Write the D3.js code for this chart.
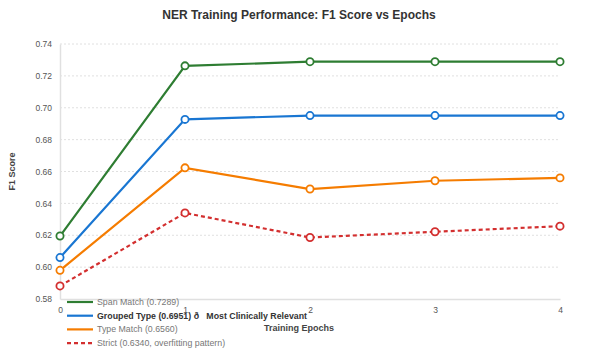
<!DOCTYPE html>
<html>
<head>
<meta charset="utf-8">
<script src="https://cdn.jsdelivr.net/npm/d3@7"></script>
<style>
  body { margin: 0; background: #fff; }
  svg { font-family: "Liberation Sans", Arial, sans-serif; }
</style>
</head>
<body>
<div id="chart"></div>
<script>
// chart data
var epochs = [0, 1, 2, 3, 4];
var spanMatch = [0.6195, 0.7263, 0.7289, 0.7289, 0.7289];
var groupedType = [0.6060, 0.6927, 0.6951, 0.6951, 0.6951];
var typeMatch = [0.5980, 0.6623, 0.6490, 0.6542, 0.6560];
var strict = [0.5882, 0.6340, 0.6186, 0.6222, 0.6257];
var yTicks = [0.58, 0.60, 0.62, 0.64, 0.66, 0.68, 0.70, 0.72, 0.74];
var seriesNames = ["Span Match (0.7289)", "Grouped Type (0.6951) \u00f0   Most Clinically Relevant", "Type Match (0.6560)", "Strict (0.6340, overfitting pattern)"];

createGraph();

function createGraph() {
    var width = 598, height = 359;
    var margin = { top: 44, right: 38, bottom: 60, left: 60 };

    var series = [
        { name: seriesNames[0], values: spanMatch, color: "#2e7d32", dash: null, bold: false },
        { name: seriesNames[1], values: groupedType, color: "#1976d2", dash: null, bold: true },
        { name: seriesNames[2], values: typeMatch, color: "#f57c00", dash: null, bold: false },
        { name: seriesNames[3], values: strict, color: "#d32f2f", dash: "4,3", bold: false }
    ];

    var x = d3.scaleLinear().domain([0, 4]).range([margin.left, width - margin.right]);
    var y = d3.scaleLinear().domain([0.58, 0.74]).range([height - margin.bottom, margin.top]);

    var svg = d3.select("#chart").append("svg")
        .attr("width", width)
        .attr("height", height);

    // grid
    svg.append("g").selectAll("line")
        .data(yTicks.slice(1))
        .enter().append("line")
        .attr("x1", x(0)).attr("x2", x(4))
        .attr("y1", function (d) { return y(d); })
        .attr("y2", function (d) { return y(d); })
        .attr("stroke", "#e0e0e0")
        .attr("stroke-dasharray", "2,2")
        .attr("stroke-width", 1);

    // axes
    var yAxis = svg.append("g")
        .attr("transform", "translate(" + margin.left + ",0)")
        .call(d3.axisLeft(y).tickValues(yTicks).tickFormat(d3.format(".2f")).tickSize(0).tickPadding(8));
    var xAxis = svg.append("g")
        .attr("transform", "translate(0," + (height - margin.bottom) + ")")
        .call(d3.axisBottom(x).tickValues(epochs).tickFormat(d3.format("d")).tickSize(0).tickPadding(8));
    [xAxis, yAxis].forEach(function (a) {
        a.select(".domain").attr("stroke", "#e0e0e0").attr("stroke-width", 1.5);
        a.selectAll("text").attr("fill", "#555").style("font-size", "8.5px").style("font-family", "Liberation Sans, Arial, sans-serif");
    });

    // lines
    var line = d3.line()
        .x(function (d, i) { return x(epochs[i]); })
        .y(function (d) { return y(d); });

    series.forEach(function (s) {
        svg.append("path")
            .datum(s.values)
            .attr("fill", "none")
            .attr("stroke", s.color)
            .attr("stroke-width", 2.2)
            .attr("stroke-dasharray", s.dash)
            .attr("d", line);
        svg.append("g").selectAll("circle")
            .data(s.values)
            .enter().append("circle")
            .attr("cx", function (d, i) { return x(epochs[i]); })
            .attr("cy", function (d) { return y(d); })
            .attr("r", 3.6)
            .attr("fill", "#fff")
            .attr("stroke", s.color)
            .attr("stroke-width", 1.8);
    });

    // title and axis labels
    svg.append("text")
        .attr("x", 299).attr("y", 19)
        .attr("text-anchor", "middle")
        .attr("font-size", "12px").attr("font-weight", "bold").attr("fill", "#333")
        .text("NER Training Performance: F1 Score vs Epochs");
    svg.append("text")
        .attr("x", 299).attr("y", 331)
        .attr("text-anchor", "middle")
        .attr("font-size", "9px").attr("font-weight", "bold").attr("fill", "#444")
        .text("Training Epochs");
    svg.append("text")
        .attr("transform", "translate(15," + ((y(0.58) + y(0.74)) / 2) + ") rotate(-90)")
        .attr("text-anchor", "middle")
        .attr("font-size", "9px").attr("font-weight", "bold").attr("fill", "#444")
        .text("F1 Score");

    // legend
    var legend = svg.append("g").selectAll("g")
        .data(series)
        .enter().append("g")
        .attr("transform", function (d, i) { return "translate(67," + (302 + i * 13.7) + ")"; });
    legend.append("line")
        .attr("x1", 0).attr("x2", 26)
        .attr("stroke", function (d) { return d.color; })
        .attr("stroke-width", 2.2)
        .attr("stroke-dasharray", function (d) { return d.dash; });
    legend.append("text")
        .attr("x", 30).attr("dy", "0.35em")
        .attr("font-size", "8.8px")
        .attr("font-weight", function (d) { return d.bold ? "bold" : "normal"; })
        .attr("fill", function (d) { return d.bold ? "#333" : "#777"; })
        .style("white-space", "pre")
        .text(function (d) { return d.name; });
}
</script>
</body>
</html>
